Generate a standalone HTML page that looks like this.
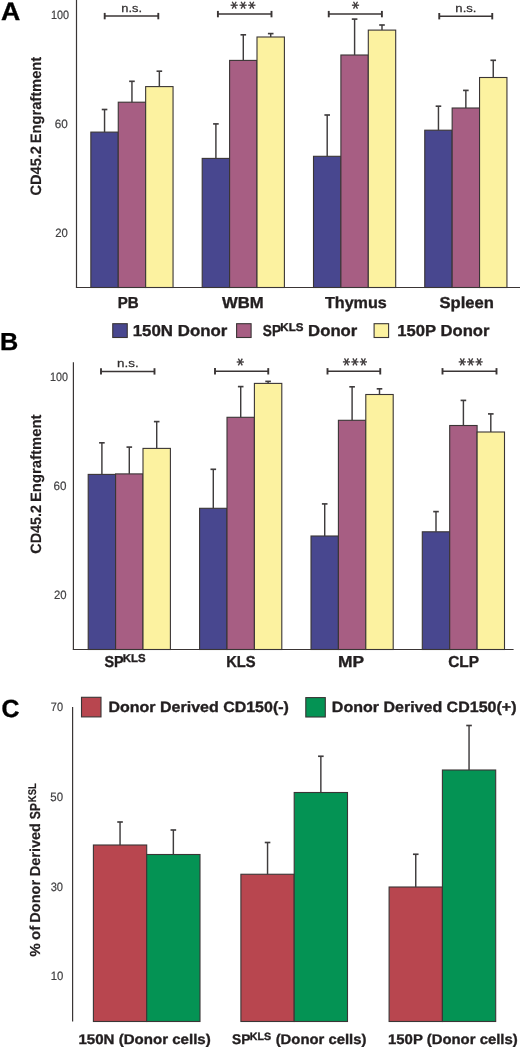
<!DOCTYPE html>
<html><head><meta charset="utf-8"><style>
html,body{margin:0;padding:0;background:#fff;}
body{width:520px;height:1047px;overflow:hidden;}
svg{display:block;font-family:"Liberation Sans", sans-serif;will-change:transform;text-rendering:geometricPrecision;filter:blur(0.3px);}
</style></head><body>
<svg width="520" height="1047" viewBox="0 0 520 1047">
<rect width="520" height="1047" fill="#fff"/>
<line x1="76.50" y1="0.00" x2="76.50" y2="287.50" stroke="#3a3535" stroke-width="1.2"/>
<line x1="75.90" y1="287.50" x2="520.00" y2="287.50" stroke="#3a3535" stroke-width="1.2"/>
<text x="50.98" y="18.50" font-size="12.1" font-weight="normal" fill="#414042" stroke="#414042" stroke-width="0.2" textLength="18.05" lengthAdjust="spacingAndGlyphs">100</text>
<text x="54.70" y="127.90" font-size="12.1" font-weight="normal" fill="#414042" stroke="#414042" stroke-width="0.2" textLength="13.05" lengthAdjust="spacingAndGlyphs">60</text>
<text x="55.13" y="236.50" font-size="12.1" font-weight="normal" fill="#414042" stroke="#414042" stroke-width="0.2" textLength="12.61" lengthAdjust="spacingAndGlyphs">20</text>
<text transform="translate(40.50,195.00) rotate(-90)" x="-0.60" y="0" font-size="15.1" font-weight="bold" fill="#231f20" stroke="#231f20" stroke-width="0.15" textLength="49.59" lengthAdjust="spacingAndGlyphs">CD45.2</text>
<text transform="translate(40.50,142.30) rotate(-90)" x="-0.98" y="0" font-size="15.1" font-weight="bold" fill="#231f20" stroke="#231f20" stroke-width="0.15" textLength="86.46" lengthAdjust="spacingAndGlyphs">Engraftment</text>
<rect x="90.85" y="132.10" width="27.40" height="155.40" fill="#48478f" stroke="#3a3535" stroke-width="1.1"/>
<rect x="118.25" y="102.20" width="27.40" height="185.30" fill="#a75e83" stroke="#3a3535" stroke-width="1.1"/>
<rect x="145.65" y="86.60" width="27.40" height="200.90" fill="#fcf2a0" stroke="#3a3535" stroke-width="1.1"/>
<line x1="104.55" y1="109.50" x2="104.55" y2="132.10" stroke="#3f3c3d" stroke-width="1.45"/>
<line x1="101.75" y1="109.50" x2="107.35" y2="109.50" stroke="#3f3c3d" stroke-width="1.65"/>
<line x1="131.95" y1="81.30" x2="131.95" y2="102.20" stroke="#3f3c3d" stroke-width="1.45"/>
<line x1="129.15" y1="81.30" x2="134.75" y2="81.30" stroke="#3f3c3d" stroke-width="1.65"/>
<line x1="159.35" y1="71.20" x2="159.35" y2="86.60" stroke="#3f3c3d" stroke-width="1.45"/>
<line x1="156.55" y1="71.20" x2="162.15" y2="71.20" stroke="#3f3c3d" stroke-width="1.65"/>
<rect x="202.20" y="158.40" width="27.40" height="129.10" fill="#48478f" stroke="#3a3535" stroke-width="1.1"/>
<rect x="229.60" y="60.40" width="27.40" height="227.10" fill="#a75e83" stroke="#3a3535" stroke-width="1.1"/>
<rect x="257.00" y="37.00" width="27.40" height="250.50" fill="#fcf2a0" stroke="#3a3535" stroke-width="1.1"/>
<line x1="215.90" y1="123.90" x2="215.90" y2="158.40" stroke="#3f3c3d" stroke-width="1.45"/>
<line x1="213.10" y1="123.90" x2="218.70" y2="123.90" stroke="#3f3c3d" stroke-width="1.65"/>
<line x1="243.30" y1="34.80" x2="243.30" y2="60.40" stroke="#3f3c3d" stroke-width="1.45"/>
<line x1="240.50" y1="34.80" x2="246.10" y2="34.80" stroke="#3f3c3d" stroke-width="1.65"/>
<line x1="270.70" y1="33.60" x2="270.70" y2="37.00" stroke="#3f3c3d" stroke-width="1.45"/>
<line x1="267.90" y1="33.60" x2="273.50" y2="33.60" stroke="#3f3c3d" stroke-width="1.65"/>
<rect x="313.50" y="156.30" width="27.40" height="131.20" fill="#48478f" stroke="#3a3535" stroke-width="1.1"/>
<rect x="340.90" y="55.00" width="27.40" height="232.50" fill="#a75e83" stroke="#3a3535" stroke-width="1.1"/>
<rect x="368.30" y="30.10" width="27.40" height="257.40" fill="#fcf2a0" stroke="#3a3535" stroke-width="1.1"/>
<line x1="327.20" y1="115.00" x2="327.20" y2="156.30" stroke="#3f3c3d" stroke-width="1.45"/>
<line x1="324.40" y1="115.00" x2="330.00" y2="115.00" stroke="#3f3c3d" stroke-width="1.65"/>
<line x1="354.60" y1="19.10" x2="354.60" y2="55.00" stroke="#3f3c3d" stroke-width="1.45"/>
<line x1="351.80" y1="19.10" x2="357.40" y2="19.10" stroke="#3f3c3d" stroke-width="1.65"/>
<line x1="382.00" y1="25.00" x2="382.00" y2="30.10" stroke="#3f3c3d" stroke-width="1.45"/>
<line x1="379.20" y1="25.00" x2="384.80" y2="25.00" stroke="#3f3c3d" stroke-width="1.65"/>
<rect x="424.75" y="130.20" width="27.40" height="157.30" fill="#48478f" stroke="#3a3535" stroke-width="1.1"/>
<rect x="452.15" y="108.00" width="27.40" height="179.50" fill="#a75e83" stroke="#3a3535" stroke-width="1.1"/>
<rect x="479.55" y="77.50" width="27.40" height="210.00" fill="#fcf2a0" stroke="#3a3535" stroke-width="1.1"/>
<line x1="438.45" y1="106.20" x2="438.45" y2="130.20" stroke="#3f3c3d" stroke-width="1.45"/>
<line x1="435.65" y1="106.20" x2="441.25" y2="106.20" stroke="#3f3c3d" stroke-width="1.65"/>
<line x1="465.85" y1="90.40" x2="465.85" y2="108.00" stroke="#3f3c3d" stroke-width="1.45"/>
<line x1="463.05" y1="90.40" x2="468.65" y2="90.40" stroke="#3f3c3d" stroke-width="1.65"/>
<line x1="493.25" y1="60.30" x2="493.25" y2="77.50" stroke="#3f3c3d" stroke-width="1.45"/>
<line x1="490.45" y1="60.30" x2="496.05" y2="60.30" stroke="#3f3c3d" stroke-width="1.65"/>
<line x1="104.70" y1="16.10" x2="158.30" y2="16.10" stroke="#3a3535" stroke-width="1.5"/>
<line x1="104.70" y1="12.90" x2="104.70" y2="19.30" stroke="#3a3535" stroke-width="1.9"/>
<line x1="158.30" y1="12.90" x2="158.30" y2="19.30" stroke="#3a3535" stroke-width="1.9"/>
<text x="121.39" y="12.10" font-size="11.4" font-weight="normal" fill="#2f2c2d" stroke="#2f2c2d" stroke-width="0.25" textLength="20.78" lengthAdjust="spacingAndGlyphs">n.s.</text>
<line x1="217.90" y1="14.10" x2="271.50" y2="14.10" stroke="#3a3535" stroke-width="1.5"/>
<line x1="217.90" y1="10.90" x2="217.90" y2="17.30" stroke="#3a3535" stroke-width="1.9"/>
<line x1="271.50" y1="10.90" x2="271.50" y2="17.30" stroke="#3a3535" stroke-width="1.9"/>
<line x1="230.60" y1="5.20" x2="237.80" y2="5.20" stroke="#403c3d" stroke-width="1.35"/>
<line x1="232.20" y1="1.74" x2="236.20" y2="8.66" stroke="#403c3d" stroke-width="1.35"/>
<line x1="236.20" y1="1.74" x2="232.20" y2="8.66" stroke="#403c3d" stroke-width="1.35"/>
<line x1="239.50" y1="5.20" x2="246.70" y2="5.20" stroke="#403c3d" stroke-width="1.35"/>
<line x1="241.10" y1="1.74" x2="245.10" y2="8.66" stroke="#403c3d" stroke-width="1.35"/>
<line x1="245.10" y1="1.74" x2="241.10" y2="8.66" stroke="#403c3d" stroke-width="1.35"/>
<line x1="248.20" y1="5.20" x2="255.40" y2="5.20" stroke="#403c3d" stroke-width="1.35"/>
<line x1="249.80" y1="1.74" x2="253.80" y2="8.66" stroke="#403c3d" stroke-width="1.35"/>
<line x1="253.80" y1="1.74" x2="249.80" y2="8.66" stroke="#403c3d" stroke-width="1.35"/>
<line x1="328.75" y1="14.10" x2="381.90" y2="14.10" stroke="#3a3535" stroke-width="1.5"/>
<line x1="328.75" y1="10.90" x2="328.75" y2="17.30" stroke="#3a3535" stroke-width="1.9"/>
<line x1="381.90" y1="10.90" x2="381.90" y2="17.30" stroke="#3a3535" stroke-width="1.9"/>
<line x1="351.90" y1="5.20" x2="359.10" y2="5.20" stroke="#403c3d" stroke-width="1.35"/>
<line x1="353.50" y1="1.74" x2="357.50" y2="8.66" stroke="#403c3d" stroke-width="1.35"/>
<line x1="357.50" y1="1.74" x2="353.50" y2="8.66" stroke="#403c3d" stroke-width="1.35"/>
<line x1="439.25" y1="16.20" x2="492.25" y2="16.20" stroke="#3a3535" stroke-width="1.5"/>
<line x1="439.25" y1="13.00" x2="439.25" y2="19.40" stroke="#3a3535" stroke-width="1.9"/>
<line x1="492.25" y1="13.00" x2="492.25" y2="19.40" stroke="#3a3535" stroke-width="1.9"/>
<text x="455.38" y="12.10" font-size="11.4" font-weight="normal" fill="#2f2c2d" stroke="#2f2c2d" stroke-width="0.25" textLength="21.06" lengthAdjust="spacingAndGlyphs">n.s.</text>
<text x="117.79" y="307.70" font-size="15.9" font-weight="bold" fill="#231f20" stroke="#231f20" stroke-width="0.35" textLength="21.00" lengthAdjust="spacingAndGlyphs">PB</text>
<text x="221.98" y="307.70" font-size="15.9" font-weight="bold" fill="#231f20" stroke="#231f20" stroke-width="0.35" textLength="41.63" lengthAdjust="spacingAndGlyphs">WBM</text>
<text x="324.92" y="307.70" font-size="15.9" font-weight="bold" fill="#231f20" stroke="#231f20" stroke-width="0.35" textLength="61.94" lengthAdjust="spacingAndGlyphs">Thymus</text>
<text x="439.52" y="307.70" font-size="15.9" font-weight="bold" fill="#231f20" stroke="#231f20" stroke-width="0.35" textLength="54.41" lengthAdjust="spacingAndGlyphs">Spleen</text>
<rect x="112.75" y="323.70" width="14.50" height="13.80" fill="#48478f" stroke="#3a3535" stroke-width="1.1"/>
<rect x="236.60" y="323.70" width="14.50" height="13.80" fill="#a75e83" stroke="#3a3535" stroke-width="1.1"/>
<rect x="374.10" y="323.70" width="14.50" height="13.80" fill="#fcf2a0" stroke="#3a3535" stroke-width="1.1"/>
<text x="132.74" y="335.60" font-size="15.9" font-weight="bold" fill="#231f20" stroke="#231f20" stroke-width="0.35" textLength="94.62" lengthAdjust="spacingAndGlyphs">150N Donor</text>
<text x="262.81" y="335.60" font-size="15.9" font-weight="bold" fill="#231f20" stroke="#231f20" stroke-width="0.35" textLength="18.16" lengthAdjust="spacingAndGlyphs">SP</text>
<text x="280.33" y="330.70" font-size="11.3" font-weight="bold" fill="#231f20" stroke="#231f20" stroke-width="0.35" textLength="23.13" lengthAdjust="spacingAndGlyphs">KLS</text>
<text x="308.08" y="335.60" font-size="15.9" font-weight="bold" fill="#231f20" stroke="#231f20" stroke-width="0.35" textLength="49.27" lengthAdjust="spacingAndGlyphs">Donor</text>
<text x="397.25" y="335.60" font-size="15.9" font-weight="bold" fill="#231f20" stroke="#231f20" stroke-width="0.35" textLength="92.20" lengthAdjust="spacingAndGlyphs">150P Donor</text>
<text x="1.14" y="20.00" font-size="25.0" font-weight="bold" fill="#000" stroke="#000" stroke-width="0.35" textLength="19.27" lengthAdjust="spacingAndGlyphs">A</text>
<line x1="73.40" y1="362.30" x2="73.40" y2="649.50" stroke="#3a3535" stroke-width="1.2"/>
<line x1="72.80" y1="649.50" x2="513.60" y2="649.50" stroke="#3a3535" stroke-width="1.2"/>
<text x="49.98" y="380.70" font-size="12.1" font-weight="normal" fill="#414042" stroke="#414042" stroke-width="0.2" textLength="17.94" lengthAdjust="spacingAndGlyphs">100</text>
<text x="53.61" y="489.60" font-size="12.1" font-weight="normal" fill="#414042" stroke="#414042" stroke-width="0.2" textLength="12.95" lengthAdjust="spacingAndGlyphs">60</text>
<text x="53.93" y="598.80" font-size="12.1" font-weight="normal" fill="#414042" stroke="#414042" stroke-width="0.2" textLength="12.61" lengthAdjust="spacingAndGlyphs">20</text>
<text transform="translate(40.50,553.10) rotate(-90)" x="-0.59" y="0" font-size="15.0" font-weight="bold" fill="#231f20" stroke="#231f20" stroke-width="0.15" textLength="48.77" lengthAdjust="spacingAndGlyphs">CD45.2</text>
<text transform="translate(40.50,501.10) rotate(-90)" x="-0.99" y="0" font-size="15.0" font-weight="bold" fill="#231f20" stroke="#231f20" stroke-width="0.15" textLength="87.58" lengthAdjust="spacingAndGlyphs">Engraftment</text>
<rect x="88.20" y="474.40" width="27.40" height="175.10" fill="#48478f" stroke="#3a3535" stroke-width="1.1"/>
<rect x="115.60" y="473.90" width="27.40" height="175.60" fill="#a75e83" stroke="#3a3535" stroke-width="1.1"/>
<rect x="143.00" y="448.40" width="27.40" height="201.10" fill="#fcf2a0" stroke="#3a3535" stroke-width="1.1"/>
<line x1="101.90" y1="442.80" x2="101.90" y2="474.40" stroke="#3f3c3d" stroke-width="1.45"/>
<line x1="99.10" y1="442.80" x2="104.70" y2="442.80" stroke="#3f3c3d" stroke-width="1.65"/>
<line x1="129.30" y1="447.10" x2="129.30" y2="473.90" stroke="#3f3c3d" stroke-width="1.45"/>
<line x1="126.50" y1="447.10" x2="132.10" y2="447.10" stroke="#3f3c3d" stroke-width="1.65"/>
<line x1="156.70" y1="421.60" x2="156.70" y2="448.40" stroke="#3f3c3d" stroke-width="1.45"/>
<line x1="153.90" y1="421.60" x2="159.50" y2="421.60" stroke="#3f3c3d" stroke-width="1.65"/>
<rect x="199.60" y="508.30" width="27.40" height="141.20" fill="#48478f" stroke="#3a3535" stroke-width="1.1"/>
<rect x="227.00" y="417.30" width="27.40" height="232.20" fill="#a75e83" stroke="#3a3535" stroke-width="1.1"/>
<rect x="254.40" y="383.40" width="27.40" height="266.10" fill="#fcf2a0" stroke="#3a3535" stroke-width="1.1"/>
<line x1="213.30" y1="469.30" x2="213.30" y2="508.30" stroke="#3f3c3d" stroke-width="1.45"/>
<line x1="210.50" y1="469.30" x2="216.10" y2="469.30" stroke="#3f3c3d" stroke-width="1.65"/>
<line x1="240.70" y1="386.60" x2="240.70" y2="417.30" stroke="#3f3c3d" stroke-width="1.45"/>
<line x1="237.90" y1="386.60" x2="243.50" y2="386.60" stroke="#3f3c3d" stroke-width="1.65"/>
<line x1="268.10" y1="381.40" x2="268.10" y2="383.40" stroke="#3f3c3d" stroke-width="1.45"/>
<line x1="265.30" y1="381.40" x2="270.90" y2="381.40" stroke="#3f3c3d" stroke-width="1.65"/>
<rect x="311.00" y="536.00" width="27.40" height="113.50" fill="#48478f" stroke="#3a3535" stroke-width="1.1"/>
<rect x="338.40" y="420.30" width="27.40" height="229.20" fill="#a75e83" stroke="#3a3535" stroke-width="1.1"/>
<rect x="365.80" y="394.50" width="27.40" height="255.00" fill="#fcf2a0" stroke="#3a3535" stroke-width="1.1"/>
<line x1="324.70" y1="503.90" x2="324.70" y2="536.00" stroke="#3f3c3d" stroke-width="1.45"/>
<line x1="321.90" y1="503.90" x2="327.50" y2="503.90" stroke="#3f3c3d" stroke-width="1.65"/>
<line x1="352.10" y1="386.80" x2="352.10" y2="420.30" stroke="#3f3c3d" stroke-width="1.45"/>
<line x1="349.30" y1="386.80" x2="354.90" y2="386.80" stroke="#3f3c3d" stroke-width="1.65"/>
<line x1="379.50" y1="388.80" x2="379.50" y2="394.50" stroke="#3f3c3d" stroke-width="1.45"/>
<line x1="376.70" y1="388.80" x2="382.30" y2="388.80" stroke="#3f3c3d" stroke-width="1.65"/>
<rect x="422.30" y="531.80" width="27.40" height="117.70" fill="#48478f" stroke="#3a3535" stroke-width="1.1"/>
<rect x="449.70" y="425.50" width="27.40" height="224.00" fill="#a75e83" stroke="#3a3535" stroke-width="1.1"/>
<rect x="477.10" y="432.00" width="27.40" height="217.50" fill="#fcf2a0" stroke="#3a3535" stroke-width="1.1"/>
<line x1="436.00" y1="511.60" x2="436.00" y2="531.80" stroke="#3f3c3d" stroke-width="1.45"/>
<line x1="433.20" y1="511.60" x2="438.80" y2="511.60" stroke="#3f3c3d" stroke-width="1.65"/>
<line x1="463.40" y1="400.40" x2="463.40" y2="425.50" stroke="#3f3c3d" stroke-width="1.45"/>
<line x1="460.60" y1="400.40" x2="466.20" y2="400.40" stroke="#3f3c3d" stroke-width="1.65"/>
<line x1="490.80" y1="413.90" x2="490.80" y2="432.00" stroke="#3f3c3d" stroke-width="1.45"/>
<line x1="488.00" y1="413.90" x2="493.60" y2="413.90" stroke="#3f3c3d" stroke-width="1.65"/>
<line x1="101.00" y1="371.40" x2="154.50" y2="371.40" stroke="#3a3535" stroke-width="1.5"/>
<line x1="101.00" y1="368.20" x2="101.00" y2="374.60" stroke="#3a3535" stroke-width="1.9"/>
<line x1="154.50" y1="368.20" x2="154.50" y2="374.60" stroke="#3a3535" stroke-width="1.9"/>
<text x="117.11" y="367.40" font-size="11.4" font-weight="normal" fill="#2f2c2d" stroke="#2f2c2d" stroke-width="0.25" textLength="21.62" lengthAdjust="spacingAndGlyphs">n.s.</text>
<line x1="215.00" y1="371.30" x2="268.25" y2="371.30" stroke="#3a3535" stroke-width="1.5"/>
<line x1="215.00" y1="368.10" x2="215.00" y2="374.50" stroke="#3a3535" stroke-width="1.9"/>
<line x1="268.25" y1="368.10" x2="268.25" y2="374.50" stroke="#3a3535" stroke-width="1.9"/>
<line x1="236.70" y1="362.00" x2="243.90" y2="362.00" stroke="#403c3d" stroke-width="1.35"/>
<line x1="238.30" y1="358.54" x2="242.30" y2="365.46" stroke="#403c3d" stroke-width="1.35"/>
<line x1="242.30" y1="358.54" x2="238.30" y2="365.46" stroke="#403c3d" stroke-width="1.35"/>
<line x1="327.50" y1="371.30" x2="380.25" y2="371.30" stroke="#3a3535" stroke-width="1.5"/>
<line x1="327.50" y1="368.10" x2="327.50" y2="374.50" stroke="#3a3535" stroke-width="1.9"/>
<line x1="380.25" y1="368.10" x2="380.25" y2="374.50" stroke="#3a3535" stroke-width="1.9"/>
<line x1="342.90" y1="361.90" x2="350.10" y2="361.90" stroke="#403c3d" stroke-width="1.35"/>
<line x1="344.50" y1="358.44" x2="348.50" y2="365.36" stroke="#403c3d" stroke-width="1.35"/>
<line x1="348.50" y1="358.44" x2="344.50" y2="365.36" stroke="#403c3d" stroke-width="1.35"/>
<line x1="351.30" y1="361.90" x2="358.50" y2="361.90" stroke="#403c3d" stroke-width="1.35"/>
<line x1="352.90" y1="358.44" x2="356.90" y2="365.36" stroke="#403c3d" stroke-width="1.35"/>
<line x1="356.90" y1="358.44" x2="352.90" y2="365.36" stroke="#403c3d" stroke-width="1.35"/>
<line x1="359.80" y1="361.90" x2="367.00" y2="361.90" stroke="#403c3d" stroke-width="1.35"/>
<line x1="361.40" y1="358.44" x2="365.40" y2="365.36" stroke="#403c3d" stroke-width="1.35"/>
<line x1="365.40" y1="358.44" x2="361.40" y2="365.36" stroke="#403c3d" stroke-width="1.35"/>
<line x1="442.50" y1="371.30" x2="496.50" y2="371.30" stroke="#3a3535" stroke-width="1.5"/>
<line x1="442.50" y1="368.10" x2="442.50" y2="374.50" stroke="#3a3535" stroke-width="1.9"/>
<line x1="496.50" y1="368.10" x2="496.50" y2="374.50" stroke="#3a3535" stroke-width="1.9"/>
<line x1="458.70" y1="361.90" x2="465.90" y2="361.90" stroke="#403c3d" stroke-width="1.35"/>
<line x1="460.30" y1="358.44" x2="464.30" y2="365.36" stroke="#403c3d" stroke-width="1.35"/>
<line x1="464.30" y1="358.44" x2="460.30" y2="365.36" stroke="#403c3d" stroke-width="1.35"/>
<line x1="467.10" y1="361.90" x2="474.30" y2="361.90" stroke="#403c3d" stroke-width="1.35"/>
<line x1="468.70" y1="358.44" x2="472.70" y2="365.36" stroke="#403c3d" stroke-width="1.35"/>
<line x1="472.70" y1="358.44" x2="468.70" y2="365.36" stroke="#403c3d" stroke-width="1.35"/>
<line x1="475.50" y1="361.90" x2="482.70" y2="361.90" stroke="#403c3d" stroke-width="1.35"/>
<line x1="477.10" y1="358.44" x2="481.10" y2="365.36" stroke="#403c3d" stroke-width="1.35"/>
<line x1="481.10" y1="358.44" x2="477.10" y2="365.36" stroke="#403c3d" stroke-width="1.35"/>
<text x="104.39" y="666.60" font-size="15.9" font-weight="bold" fill="#231f20" stroke="#231f20" stroke-width="0.35" textLength="19.21" lengthAdjust="spacingAndGlyphs">SP</text>
<text x="122.84" y="661.50" font-size="11.4" font-weight="bold" fill="#231f20" stroke="#231f20" stroke-width="0.35" textLength="22.81" lengthAdjust="spacingAndGlyphs">KLS</text>
<text x="226.21" y="666.60" font-size="15.9" font-weight="bold" fill="#231f20" stroke="#231f20" stroke-width="0.35" textLength="29.46" lengthAdjust="spacingAndGlyphs">KLS</text>
<text x="338.04" y="666.60" font-size="15.9" font-weight="bold" fill="#231f20" stroke="#231f20" stroke-width="0.35" textLength="26.06" lengthAdjust="spacingAndGlyphs">MP</text>
<text x="448.17" y="666.60" font-size="15.9" font-weight="bold" fill="#231f20" stroke="#231f20" stroke-width="0.35" textLength="30.86" lengthAdjust="spacingAndGlyphs">CLP</text>
<text x="0.11" y="350.20" font-size="24.6" font-weight="bold" fill="#000" stroke="#000" stroke-width="0.35" textLength="18.24" lengthAdjust="spacingAndGlyphs">B</text>
<line x1="72.60" y1="706.90" x2="72.60" y2="1021.50" stroke="#3a3535" stroke-width="1.2"/>
<text x="50.84" y="710.70" font-size="12.1" font-weight="normal" fill="#414042" stroke="#414042" stroke-width="0.2" textLength="12.19" lengthAdjust="spacingAndGlyphs">70</text>
<text x="50.34" y="800.70" font-size="12.1" font-weight="normal" fill="#414042" stroke="#414042" stroke-width="0.2" textLength="12.70" lengthAdjust="spacingAndGlyphs">50</text>
<text x="50.68" y="890.50" font-size="12.1" font-weight="normal" fill="#414042" stroke="#414042" stroke-width="0.2" textLength="12.36" lengthAdjust="spacingAndGlyphs">30</text>
<text x="50.74" y="980.20" font-size="12.1" font-weight="normal" fill="#414042" stroke="#414042" stroke-width="0.2" textLength="12.61" lengthAdjust="spacingAndGlyphs">10</text>
<text transform="translate(40.20,956.50) rotate(-90)" x="-0.38" y="0" font-size="14.5" font-weight="bold" fill="#231f20" stroke="#231f20" stroke-width="0.2" textLength="13.48" lengthAdjust="spacingAndGlyphs">%</text>
<text transform="translate(40.20,939.40) rotate(-90)" x="-0.59" y="0" font-size="14.5" font-weight="bold" fill="#231f20" stroke="#231f20" stroke-width="0.2" textLength="14.16" lengthAdjust="spacingAndGlyphs">of</text>
<text transform="translate(40.20,921.70) rotate(-90)" x="-0.97" y="0" font-size="14.5" font-weight="bold" fill="#231f20" stroke="#231f20" stroke-width="0.2" textLength="42.69" lengthAdjust="spacingAndGlyphs">Donor</text>
<text transform="translate(40.20,875.20) rotate(-90)" x="-0.97" y="0" font-size="14.5" font-weight="bold" fill="#231f20" stroke="#231f20" stroke-width="0.2" textLength="53.12" lengthAdjust="spacingAndGlyphs">Derived</text>
<text transform="translate(40.20,818.80) rotate(-90)" x="-0.35" y="0" font-size="14.5" font-weight="bold" fill="#231f20" stroke="#231f20" stroke-width="0.2" textLength="16.06" lengthAdjust="spacingAndGlyphs">SP</text>
<text transform="translate(35.90,801.50) rotate(-90)" x="-0.63" y="0" font-size="11.2" font-weight="bold" fill="#231f20" stroke="#231f20" stroke-width="0.2" textLength="18.82" lengthAdjust="spacingAndGlyphs">KSL</text>
<rect x="93.40" y="845.00" width="53.30" height="176.50" fill="#b8464f" stroke="#3a3535" stroke-width="1.1"/>
<rect x="146.70" y="854.50" width="53.30" height="167.00" fill="#049354" stroke="#3a3535" stroke-width="1.1"/>
<line x1="120.05" y1="822.00" x2="120.05" y2="845.00" stroke="#3f3c3d" stroke-width="1.45"/>
<line x1="117.25" y1="822.00" x2="122.85" y2="822.00" stroke="#3f3c3d" stroke-width="1.65"/>
<line x1="173.35" y1="830.00" x2="173.35" y2="854.50" stroke="#3f3c3d" stroke-width="1.45"/>
<line x1="170.55" y1="830.00" x2="176.15" y2="830.00" stroke="#3f3c3d" stroke-width="1.65"/>
<rect x="240.90" y="874.25" width="53.30" height="147.25" fill="#b8464f" stroke="#3a3535" stroke-width="1.1"/>
<rect x="294.20" y="792.50" width="53.30" height="229.00" fill="#049354" stroke="#3a3535" stroke-width="1.1"/>
<line x1="267.55" y1="842.50" x2="267.55" y2="874.25" stroke="#3f3c3d" stroke-width="1.45"/>
<line x1="264.75" y1="842.50" x2="270.35" y2="842.50" stroke="#3f3c3d" stroke-width="1.65"/>
<line x1="320.85" y1="756.25" x2="320.85" y2="792.50" stroke="#3f3c3d" stroke-width="1.45"/>
<line x1="318.05" y1="756.25" x2="323.65" y2="756.25" stroke="#3f3c3d" stroke-width="1.65"/>
<rect x="389.10" y="887.00" width="53.30" height="134.50" fill="#b8464f" stroke="#3a3535" stroke-width="1.1"/>
<rect x="442.40" y="770.00" width="53.30" height="251.50" fill="#049354" stroke="#3a3535" stroke-width="1.1"/>
<line x1="415.75" y1="854.25" x2="415.75" y2="887.00" stroke="#3f3c3d" stroke-width="1.45"/>
<line x1="412.95" y1="854.25" x2="418.55" y2="854.25" stroke="#3f3c3d" stroke-width="1.65"/>
<line x1="469.05" y1="725.50" x2="469.05" y2="770.00" stroke="#3f3c3d" stroke-width="1.45"/>
<line x1="466.25" y1="725.50" x2="471.85" y2="725.50" stroke="#3f3c3d" stroke-width="1.65"/>
<rect x="81.50" y="697.30" width="19.50" height="19.60" fill="#b8464f" stroke="#3a3535" stroke-width="1.1"/>
<rect x="305.80" y="697.60" width="19.50" height="19.40" fill="#049354" stroke="#3a3535" stroke-width="1.1"/>
<text x="108.53" y="711.60" font-size="14.9" font-weight="bold" fill="#231f20" stroke="#231f20" stroke-width="0.35" textLength="180.37" lengthAdjust="spacingAndGlyphs">Donor Derived CD150(-)</text>
<text x="331.83" y="711.60" font-size="14.9" font-weight="bold" fill="#231f20" stroke="#231f20" stroke-width="0.35" textLength="184.67" lengthAdjust="spacingAndGlyphs">Donor Derived CD150(+)</text>
<text x="78.45" y="1044.10" font-size="14.0" font-weight="bold" fill="#231f20" stroke="#231f20" stroke-width="0.35" textLength="132.30" lengthAdjust="spacingAndGlyphs">150N (Donor cells)</text>
<text x="232.00" y="1044.10" font-size="14.0" font-weight="bold" fill="#231f20" stroke="#231f20" stroke-width="0.35" textLength="18.37" lengthAdjust="spacingAndGlyphs">SP</text>
<text x="249.79" y="1039.80" font-size="10.6" font-weight="bold" fill="#231f20" stroke="#231f20" stroke-width="0.35" textLength="21.33" lengthAdjust="spacingAndGlyphs">KLS</text>
<text x="275.66" y="1044.10" font-size="14.0" font-weight="bold" fill="#231f20" stroke="#231f20" stroke-width="0.35" textLength="90.78" lengthAdjust="spacingAndGlyphs">(Donor cells)</text>
<text x="388.06" y="1044.10" font-size="14.0" font-weight="bold" fill="#231f20" stroke="#231f20" stroke-width="0.35" textLength="129.68" lengthAdjust="spacingAndGlyphs">150P (Donor cells)</text>
<text x="1.48" y="717.00" font-size="24.8" font-weight="bold" fill="#000" stroke="#000" stroke-width="0.35" textLength="17.95" lengthAdjust="spacingAndGlyphs">C</text>
</svg>
</body></html>
